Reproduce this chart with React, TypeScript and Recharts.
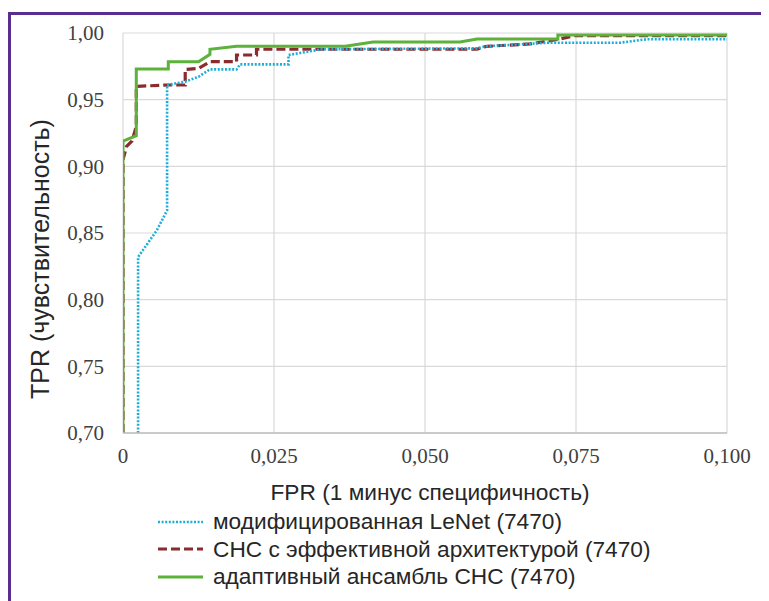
import { CartesianGrid, Label, Line, LineChart, XAxis, YAxis } from 'recharts';

// ROC curves, FPR on x, TPR on y
const fprTicks = [0, 0.025, 0.05, 0.075, 0.1];
const tprTicks = [0.7, 0.75, 0.8, 0.85, 0.9, 0.95, 1.0];

const lenetCurve: [number, number][] = [
  [0.0025, 0.7], [0.0025, 0.832], [0.0056, 0.852], [0.0073, 0.867], [0.0073, 0.961],
  [0.0103, 0.9635], [0.0125, 0.9672], [0.0144, 0.9727], [0.0188, 0.9727], [0.0194, 0.9765],
  [0.0274, 0.9765], [0.0274, 0.9835], [0.0293, 0.985], [0.0306, 0.986], [0.0329, 0.9878],
  [0.0586, 0.9885], [0.06, 0.99], [0.064, 0.991], [0.0702, 0.9927], [0.0823, 0.9927],
  [0.0867, 0.9953], [0.1, 0.9953]
];

const effectiveCurve: [number, number][] = [
  [0, 0.7], [0, 0.905], [0.0006, 0.915], [0.0015, 0.919], [0.0022, 0.93], [0.0022, 0.96],
  [0.0075, 0.961], [0.0103, 0.961], [0.0103, 0.9727], [0.0125, 0.9735], [0.0144, 0.9785],
  [0.0188, 0.9785], [0.0188, 0.9835], [0.0221, 0.9835], [0.0221, 0.9878], [0.0586, 0.9878],
  [0.0602, 0.99], [0.0674, 0.9918], [0.0723, 0.9955], [0.0748, 0.998], [0.1, 0.998]
];

const ensembleCurve: [number, number][] = [
  [0, 0.7], [0, 0.919], [0.0022, 0.923], [0.0022, 0.973], [0.0075, 0.973], [0.0075, 0.9785],
  [0.0125, 0.9785], [0.0144, 0.984], [0.0144, 0.9878], [0.0188, 0.99], [0.0368, 0.99],
  [0.0414, 0.9932], [0.0558, 0.9932], [0.0586, 0.9955], [0.072, 0.9955], [0.072, 0.9985],
  [0.1, 0.9985]
];

const seriesNames = [
  'модифицированная LeNet (7470)',
  'СНС с эффективной архитектурой (7470)',
  'адаптивный ансамбль СНС (7470)'
];

const toPoints = (curve: [number, number][]) => curve.map(([fpr, tpr]) => ({ fpr, tpr }));

const series = [
  { name: seriesNames[0], data: toPoints(lenetCurve), color: '#1aaed8', width: 2.6, dash: '2 1.6' },
  { name: seriesNames[1], data: toPoints(effectiveCurve), color: '#8a2b2e', width: 3.2, dash: '9 4' },
  { name: seriesNames[2], data: toPoints(ensembleCurve), color: '#5cb23a', width: 3, dash: undefined }
];

// red first, dotted blue over it, green on top
const drawOrder = [1, 0, 2];

const sansFont = '"Liberation Sans", Arial, sans-serif';
const serifFont = '"Liberation Serif", "Times New Roman", serif';

const formatFpr = (v: number) => (v === 0 ? '0' : v.toFixed(3).replace('.', ','));
const formatTpr = (v: number) => v.toFixed(2).replace('.', ',');

export default function App() {
  return (
    <div style={{ position: 'relative', width: 761, height: 593, overflow: 'hidden', background: '#fff' }}>
      <div
        style={{
          position: 'absolute',
          top: 4,
          left: 0,
          width: 900,
          height: 800,
          borderTop: '3px solid #5c2d91',
          borderLeft: '3px solid #5c2d91'
        }}
      />
      <div style={{ position: 'absolute', top: 0, left: 0 }}>
        <LineChart width={761} height={593} margin={{ top: 25, right: 42, bottom: 98, left: 0 }}>
          <CartesianGrid stroke="#d9d9d9" strokeWidth={1.2} />
          <XAxis
            type="number"
            dataKey="fpr"
            domain={[0, 0.1]}
            ticks={fprTicks}
            tickFormatter={formatFpr}
            allowDataOverflow
            height={70}
            tickSize={0}
            tickMargin={15}
            axisLine={{ stroke: '#bfbfbf', strokeWidth: 1.5 }}
            tick={{ fill: '#404040', fontSize: 21, fontFamily: serifFont }}
          >
            <Label
              content={(props: any) => {
                const vb = props.viewBox;
                return (
                  <text
                    x={vb.x + vb.width / 2 + 5}
                    y={vb.y + 59}
                    textAnchor="middle"
                    dominantBaseline="central"
                    fill="#262626"
                    fontSize={22.7}
                    fontFamily={sansFont}
                  >
                    FPR (1 минус специфичность)
                  </text>
                );
              }}
            />
          </XAxis>
          <YAxis
            type="number"
            dataKey="tpr"
            domain={[0.7, 1.0]}
            ticks={tprTicks}
            tickFormatter={formatTpr}
            allowDataOverflow
            width={115}
            tickSize={0}
            tickMargin={19}
            axisLine={false}
            tick={{ fill: '#404040', fontSize: 21, fontFamily: serifFont }}
          >
            <Label
              content={(props: any) => {
                const vb = props.viewBox;
                const cx = vb.x + 32;
                const cy = vb.y + vb.height / 2 + 26;
                return (
                  <text
                    x={cx}
                    y={cy}
                    transform={`rotate(-90, ${cx}, ${cy})`}
                    textAnchor="middle"
                    dominantBaseline="central"
                    fill="#262626"
                    fontSize={25}
                    fontFamily={sansFont}
                  >
                    TPR (чувствительность)
                  </text>
                );
              }}
            />
          </YAxis>
          {drawOrder.map((i) => {
            const s = series[i];
            return (
              <Line
                key={s.name}
                data={s.data}
                dataKey="tpr"
                name={s.name}
                type="linear"
                stroke={s.color}
                strokeWidth={s.width}
                strokeDasharray={s.dash}
                dot={false}
                activeDot={false}
                isAnimationActive={false}
              />
            );
          })}
        </LineChart>
      </div>
      <div style={{ position: 'absolute', left: 150, top: 500, fontFamily: sansFont, fontSize: 22.7, color: '#262626' }}>
        {series.map((s) => (
          <div key={s.name} style={{ display: 'flex', alignItems: 'center', height: 27.5 }}>
            <svg width={47} height={10} style={{ marginRight: 8 }}>
              <line
                x1={0}
                y1={5}
                x2={45}
                y2={5}
                stroke={s.color}
                strokeWidth={s.width}
                strokeDasharray={s.dash}
              />
            </svg>
            <span style={{ whiteSpace: 'nowrap', lineHeight: '27.5px' }}>{s.name}</span>
          </div>
        ))}
      </div>
    </div>
  );
}
